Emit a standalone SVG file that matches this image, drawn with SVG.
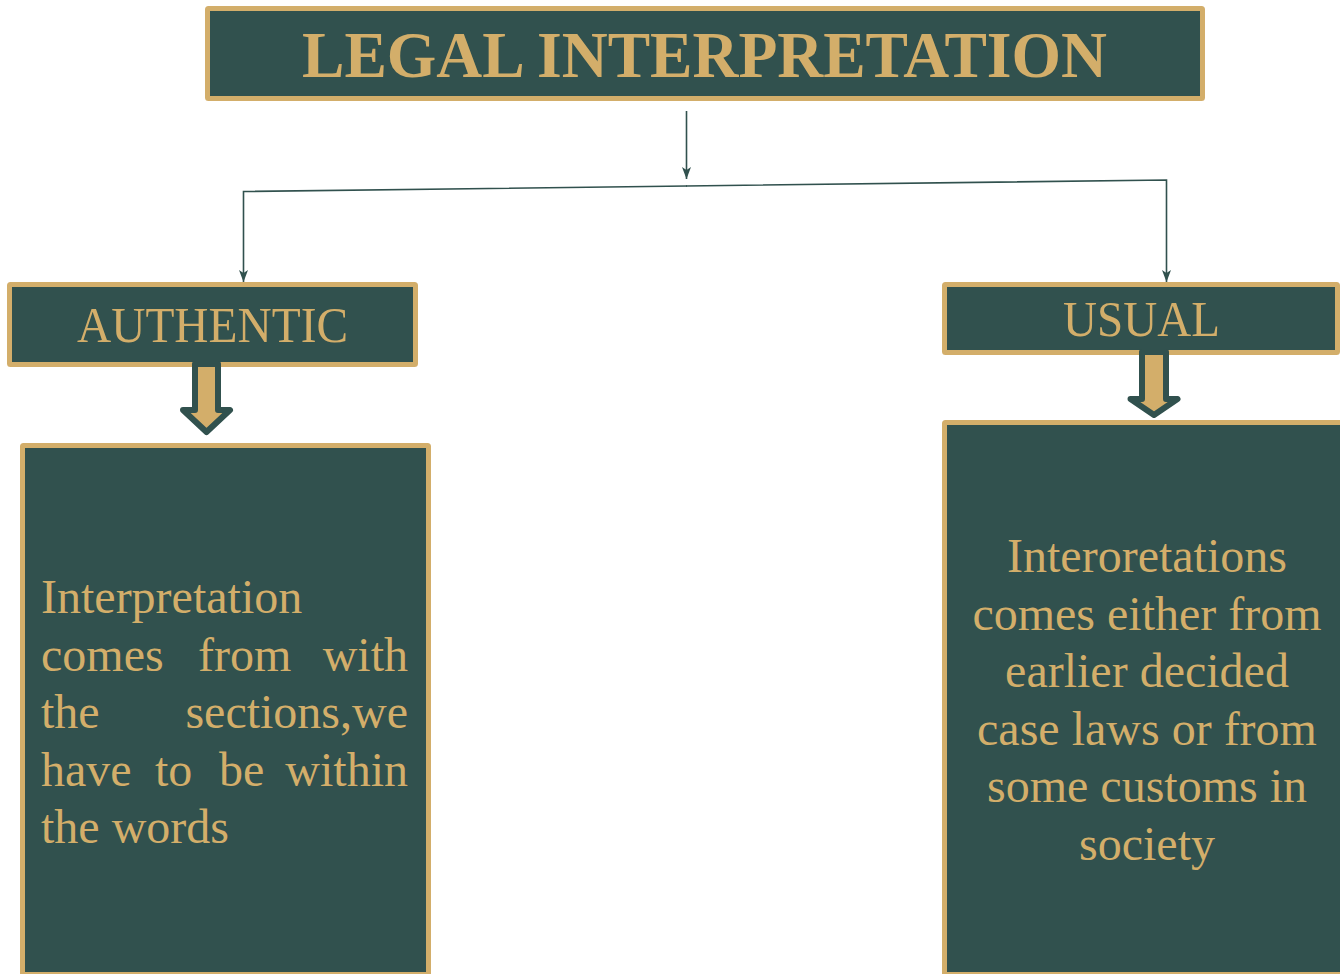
<svg xmlns="http://www.w3.org/2000/svg" width="1340" height="974" viewBox="0 0 1340 974">
  <style>
    .box { fill: #31514E; stroke: #D3AE6A; stroke-width: 5; }
    .t { font-family: "Liberation Serif", "Times New Roman", serif; fill: #D3AE6A; }
    .conn { fill: none; stroke: #31514E; stroke-width: 1.6; }
    .blk { fill: #D3AE6A; stroke: #31514E; stroke-width: 6; stroke-linejoin: round; }
  </style>
  <defs>
    <marker id="ah" viewBox="0 -5 12 10" refX="12" refY="0" markerWidth="12" markerHeight="10" markerUnits="userSpaceOnUse" orient="auto">
      <path d="M0,-4.5 L12,0 L0,4.5 L3,0 Z" fill="#31514E"/>
    </marker>
  </defs>
  <rect width="1340" height="974" fill="#FFFFFF"/>

  <g id="connectors">
    <path class="conn" d="M686.5,111 L686.5,179" marker-end="url(#ah)"/>
    <path class="conn" d="M687,186 L243.5,191.5 L243.5,282" marker-end="url(#ah)"/>
    <path class="conn" d="M686,186 L1166.5,180 L1166.5,282" marker-end="url(#ah)"/>
  </g>

  <g id="title">
    <rect class="box" x="207.5" y="8.5" width="995" height="90" rx="1"/>
    <text class="t" x="704.5" y="77" font-size="66" font-weight="bold" text-anchor="middle" textLength="805" lengthAdjust="spacingAndGlyphs">LEGAL INTERPRETATION</text>
  </g>

  <g id="authentic">
    <rect class="box" x="9.5" y="284.5" width="406" height="80" rx="1"/>
    <text class="t" x="212.5" y="342" font-size="50" text-anchor="middle" textLength="271" lengthAdjust="spacingAndGlyphs">AUTHENTIC</text>
  </g>

  <g id="usual">
    <rect class="box" x="944.5" y="284.5" width="393" height="68" rx="1"/>
    <text class="t" x="1141.5" y="336" font-size="50" text-anchor="middle" textLength="157" lengthAdjust="spacingAndGlyphs">USUAL</text>
  </g>

  <g id="authentic-body">
    <rect class="box" x="22.5" y="445.5" width="406" height="529" rx="1"/>
    <text class="t" font-size="48"><tspan x="41" y="613">Interpretation</tspan><tspan x="41" y="670.5">comes</tspan><tspan x="198" y="670.5">from</tspan><tspan x="322.7" y="670.5">with</tspan><tspan x="41" y="728">the</tspan><tspan x="185.4" y="728">sections,we</tspan><tspan x="41" y="785.5">have</tspan><tspan x="155" y="785.5">to</tspan><tspan x="219" y="785.5">be</tspan><tspan x="285.3" y="785.5">within</tspan><tspan x="41" y="843">the words</tspan></text>
  </g>

  <g id="usual-body">
    <rect class="box" x="944.5" y="422.5" width="410" height="552" rx="1"/>
    <text class="t" font-size="48" text-anchor="middle"><tspan x="1147" y="572">Interoretations</tspan><tspan x="1147" y="629.5">comes either from</tspan><tspan x="1147" y="687">earlier decided</tspan><tspan x="1147" y="744.5">case laws or from</tspan><tspan x="1147" y="802">some customs in</tspan><tspan x="1147" y="859.5">society</tspan></text>
  </g>

  <g id="arrow-authentic">
    <path class="blk" d="M195,364 L195,410 L183,410 L206.5,432 L230,410 L218,410 L218,364 Z"/>
  </g>
  <g id="arrow-usual">
    <path class="blk" d="M1142,352 L1142,399 L1130.5,399 L1154,415 L1177.5,399 L1166,399 L1166,352 Z"/>
  </g>
</svg>
